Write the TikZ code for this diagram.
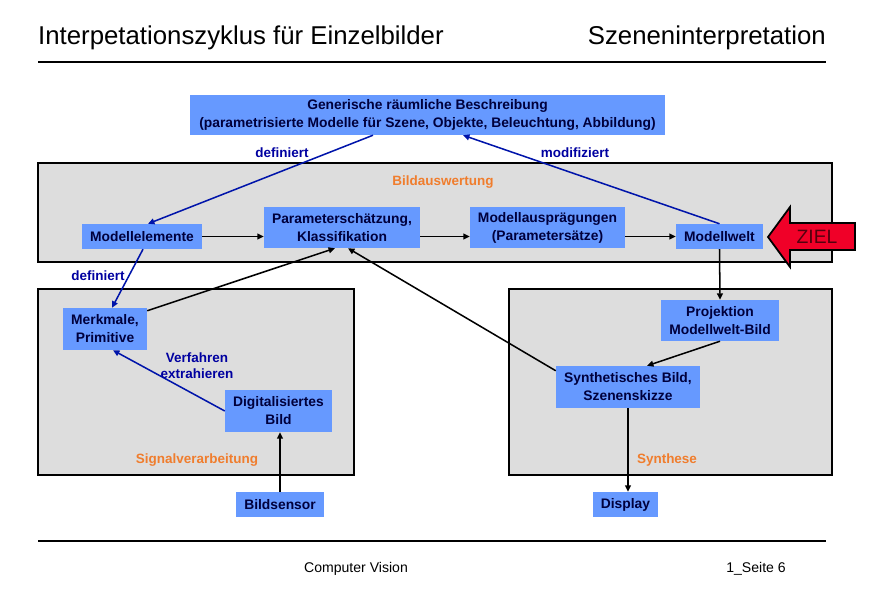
\documentclass[tikz,border=0pt]{standalone}
\usepackage{fontspec}
\setmainfont{Liberation Sans}
\usepackage{tikz}
\usetikzlibrary{arrows.meta,calc}
\usepackage{xcolor}
\definecolor{boxblue}{RGB}{102,153,255}
\definecolor{panelgray}{RGB}{221,221,221}
\definecolor{darknavy}{RGB}{0,0,60}
\definecolor{linkblue}{RGB}{0,20,170}
\definecolor{labelblue}{RGB}{0,0,160}
\definecolor{sectorange}{RGB}{240,125,45}
\definecolor{zielred}{RGB}{240,0,40}

\begin{document}
\begin{tikzpicture}[x=0.03cm, y=-0.03cm,
    box/.style={fill=boxblue, text=darknavy, font=\fontsize{11.8}{15.3}\selectfont\bfseries, align=center, inner sep=0pt},
    panel/.style={fill=panelgray, draw=black, line width=1.5pt},
    arr/.style={-{Triangle[length=5.5pt,width=5pt]}, line width=1.3pt},
    barr/.style={arr, draw=linkblue},
    lbl/.style={text=labelblue, font=\fontsize{11.5}{13.5}\selectfont\bfseries, align=center, inner sep=1pt},
    sect/.style={text=sectorange, font=\fontsize{11.5}{13}\selectfont\bfseries, inner sep=1pt}]
    \useasboundingbox (0,0) rectangle (870,600);
    % Kopfzeile und Fusszeile
    \node[anchor=base west, inner sep=0pt, font=\fontsize{22}{22}\selectfont] (titel) at (38,45) {Interpetationszyklus für Einzelbilder};
    \node[anchor=base east, inner sep=0pt, font=\fontsize{22}{22}\selectfont] (thema) at (826,45) {Szeneninterpretation};
    \draw[line width=2pt] (38,62) -- (826,62);
    \draw[line width=2pt] (38,541) -- (826,541);
    \node[anchor=base, font=\fontsize{12}{12}\selectfont] (kurs) at (356,572) {Computer Vision};
    \node[anchor=base, font=\fontsize{12}{12}\selectfont] (seite) at (756,572) {1\_Seite 6};
    % Bereiche
    \draw[panel] (38,163) rectangle (832,262);
    \draw[panel] (38,289) rectangle (354,475);
    \draw[panel] (509,289) rectangle (832,475);
    \node[sect] (bildausw) at (443,182) {Bildauswertung};
    \node[sect] (signal) at (197,460) {Signalverarbeitung};
    \node[sect] (synthese) at (667,460) {Synthese};
    % Kaesten
    \node[box, minimum width=14.25cm, minimum height=1.2cm] (gen) at (427.5,115) {Generische räumliche Beschreibung\\(parametrisierte Modelle für Szene, Objekte, Beleuchtung, Abbildung)};
    \node[box, minimum width=3.6cm, minimum height=0.75cm] (modelel) at (142,236.5) {Modellelemente};
    \node[box, minimum width=4.68cm, minimum height=1.23cm] (param) at (342,227.5) {Parameterschätzung,\\Klassifikation};
    \node[box, minimum width=4.65cm, minimum height=1.23cm] (auspr) at (547.5,227.5) {Modellausprägungen\\(Parametersätze)};
    \node[box, minimum width=2.61cm, minimum height=0.75cm] (welt) at (719.5,236.5) {Modellwelt};
    \node[box, minimum width=2.52cm, minimum height=1.26cm] (merkmale) at (105,329) {Merkmale,\\Primitive};
    \node[box, minimum width=3.21cm, minimum height=1.26cm] (digbild) at (278.5,411) {Digitalisiertes\\Bild};
    \node[box, minimum width=3.54cm, minimum height=1.23cm] (projekt) at (720,320.5) {Projektion\\Modellwelt-Bild};
    \node[box, minimum width=4.32cm, minimum height=1.26cm] (synth) at (628,387) {Synthetisches Bild,\\Szenenskizze};
    \node[box, minimum width=2.64cm, minimum height=0.75cm] (sensor) at (280,504.5) {Bildsensor};
    \node[box, minimum width=1.95cm, minimum height=0.75cm] (display) at (625.5,504.5) {Display};
    % Ziel-Pfeil
    \draw[fill=zielred, line width=1.5pt, line join=miter] (790,207) -- (768,237) -- (790,267) -- (790,250) -- (855,250) -- (855,223) -- (790,223) -- cycle;
    \node[font=\fontsize{16.5}{16.5}\selectfont, text=zielred!35!black] (ziel) at (817,237) {ZIEL};
    % blaue Verbindungen
    \draw[barr] ($(gen.south)+(-54.5,0)$) -- ($(modelel.north)+(6,0)$);
    \draw[barr] (welt.north) -- ($(gen.south)+(35.5,0)$);
    \draw[barr] ($(modelel.south)+(1,0)$) -- ($(merkmale.north)+(7,0)$);
    \draw[barr] (digbild.west) -- ($(merkmale.south)+(8,0)$);
    \node[lbl] (defa) at (282,153) {definiert};
    \node[lbl] (modif) at (575,153) {modifiziert};
    \node[lbl] (defb) at (98,276) {definiert};
    \node[lbl] (verf) at (197,366) {Verfahren\\extrahieren};
    % schwarze Verbindungen
    \draw[arr] (modelel.east) -- (modelel.east -| param.west);
    \draw[arr] (param.east |- welt) -- (auspr.west |- welt);
    \draw[arr] (auspr.east |- welt) -- (welt.west);
    \draw[arr] (welt.south) -- (projekt.north);
    \draw[arr] (projekt.south) -- ($(synth.north)+(19,0)$);
    \draw[arr] ($(synth.north west)+(0,5)$) -- ($(param.south)+(6,0)$);
    \draw[arr] ($(merkmale.north east)+(0,3)$) -- ($(param.south)+(-7,0)$);
    \draw[arr] (sensor.north) -- (sensor.north |- digbild.south);
    \draw[arr] (synth.south) -- (synth.south |- display.north);
\end{tikzpicture}
\end{document}
